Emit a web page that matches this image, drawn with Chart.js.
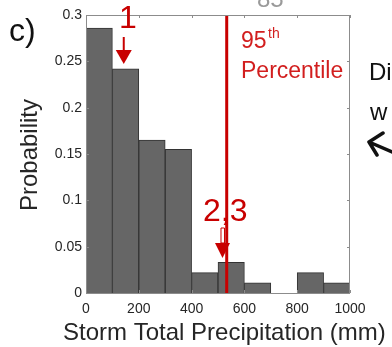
<!DOCTYPE html>
<html>
<head>
<meta charset="utf-8">
<script src="https://cdn.jsdelivr.net/npm/chart.js@4"></script>
<style>
  html, body { margin: 0; padding: 0; background: #fff; }
  #wrap { width: 392px; height: 347px; }
</style>
</head>
<body>
<div id="wrap"><canvas id="histChart" width="392" height="347"></canvas></div>
<script>
// bin centres (mm) and probabilities
const binCenters = [50, 150, 250, 350, 450, 550, 650, 750, 850, 950];
const probabilities = [0.286, 0.242, 0.165, 0.155, 0.022, 0.033, 0.011, 0, 0.022, 0.011];
const percentile95 = 533;
const xTicks = [0, 200, 400, 600, 800, 1000];
const yTicks = [0, 0.05, 0.1, 0.15, 0.2, 0.25, 0.3];

const FONT = "'Liberation Sans', Arial, Helvetica, sans-serif";
const RED = '#c80000';

// frame, inward ticks and the hand-drawn annotations
const decorations = {
  id: 'decorations',
  afterDraw(chart) {
    const { ctx, chartArea: a, scales: { x, y } } = chart;
    ctx.save();

    // axis box
    ctx.strokeStyle = '#8c8c8c';
    ctx.lineWidth = 1;
    ctx.strokeRect(a.left + 0.5, a.top + 0.5, a.right - a.left - 1, a.bottom - a.top);
    ctx.beginPath();
    xTicks.forEach(v => {
      const px = Math.round(x.getPixelForValue(v)) + 0.5;
      ctx.moveTo(px, a.bottom); ctx.lineTo(px, a.bottom - 3);
      ctx.moveTo(px, a.top); ctx.lineTo(px, a.top + 3);
    });
    yTicks.forEach(v => {
      const py = Math.round(y.getPixelForValue(v)) + 0.5;
      ctx.moveTo(a.left, py); ctx.lineTo(a.left + 3, py);
      ctx.moveTo(a.right, py); ctx.lineTo(a.right - 3, py);
    });
    ctx.stroke();

    // axis titles
    ctx.fillStyle = '#262626';
    ctx.font = '24px ' + FONT;
    ctx.textAlign = 'left';
    ctx.textBaseline = 'alphabetic';
    ctx.fillText('Storm Total Precipitation (mm)', 63, 340);
    ctx.save();
    ctx.translate(37, 155);
    ctx.rotate(-Math.PI / 2);
    ctx.textAlign = 'center';
    ctx.fillText('Probability', 0, 0);
    ctx.restore();

    // panel letter
    ctx.fillStyle = '#111';
    ctx.font = '32px ' + FONT;
    ctx.fillText('c)', 9, 41);

    // clipped text from neighbouring panels
    ctx.fillStyle = '#9a9a9a';
    ctx.font = '24px ' + FONT;
    ctx.fillText('85', 257, 7);
    ctx.fillStyle = '#111';
    ctx.fillText('Di', 369, 80);
    ctx.fillText('w', 370, 120);
    ctx.strokeStyle = '#111';
    ctx.lineWidth = 3.5;
    ctx.lineCap = 'round';
    ctx.lineJoin = 'round';
    ctx.beginPath();
    ctx.moveTo(383, 133); ctx.lineTo(369, 142); ctx.lineTo(377, 155);
    ctx.moveTo(369, 142); ctx.lineTo(392, 152);
    ctx.stroke();

    // "1" with arrow
    ctx.fillStyle = RED;
    ctx.strokeStyle = RED;
    ctx.lineCap = 'butt';
    ctx.font = '32px ' + FONT;
    ctx.textAlign = 'left';
    ctx.fillText('1', 119, 28);
    const ax1 = x.getPixelForValue(143);
    ctx.lineWidth = 2;
    ctx.beginPath();
    ctx.moveTo(ax1, 37); ctx.lineTo(ax1, 51);
    ctx.stroke();
    ctx.beginPath();
    ctx.moveTo(ax1 - 8, 50); ctx.lineTo(ax1 + 8, 50); ctx.lineTo(ax1, 64); ctx.closePath();
    ctx.fill();

    // "2,3" with hollow arrow
    ctx.fillText('2,3', 203, 221);
    const ax2 = x.getPixelForValue(517);
    ctx.fillStyle = '#fff';
    ctx.lineWidth = 1;
    ctx.fillRect(ax2 - 1.5, 228, 3.5, 15);
    ctx.strokeRect(ax2 - 1.5, 228, 3.5, 15);
    ctx.fillStyle = RED;
    ctx.beginPath();
    ctx.moveTo(ax2 - 7.5, 243); ctx.lineTo(ax2 + 7.5, 243); ctx.lineTo(ax2, 258); ctx.closePath();
    ctx.fill();

    // 95th percentile label
    ctx.fillStyle = '#d21e1e';
    ctx.font = '23px ' + FONT;
    ctx.fillText('95', 241, 48);
    ctx.font = '14px ' + FONT;
    ctx.fillText('th', 268, 38);
    ctx.font = '23px ' + FONT;
    ctx.fillText('Percentile', 241, 78);

    ctx.restore();
  }
};

new Chart(document.getElementById('histChart'), {
  type: 'bar',
  data: {
    datasets: [
      {
        type: 'line',
        data: [{ x: percentile95, y: 0 }, { x: percentile95, y: 0.3 }],
        borderColor: RED,
        borderWidth: 3,
        pointRadius: 0,
        order: 0
      },
      {
        data: binCenters.map((c, i) => ({ x: c, y: probabilities[i] })),
        backgroundColor: '#666666',
        borderColor: '#333333',
        borderWidth: 1,
        barPercentage: 1,
        categoryPercentage: 1,
        order: 1
      }
    ]
  },
  options: {
    responsive: false,
    animation: false,
    layout: { padding: { top: 15, right: 42, left: 0, bottom: 0 } },
    plugins: { legend: { display: false }, tooltip: { enabled: false } },
    scales: {
      x: {
        type: 'linear',
        min: 0,
        max: 1000,
        offset: false,
        afterFit: s => { s.height = 54; },
        afterBuildTicks: s => { s.ticks = xTicks.map(v => ({ value: v })); },
        grid: { display: false, drawTicks: false },
        border: { display: false },
        ticks: {
          padding: 8,
          color: '#262626',
          font: { family: FONT, size: 14 },
          callback: v => String(v)
        }
      },
      y: {
        min: 0,
        max: 0.3,
        afterFit: s => { s.width = 86; },
        afterBuildTicks: s => { s.ticks = yTicks.map(v => ({ value: v })); },
        grid: { display: false, drawTicks: false },
        border: { display: false },
        ticks: {
          padding: 4,
          color: '#262626',
          font: { family: FONT, size: 14 },
          callback: v => String(+v.toFixed(2))
        }
      }
    }
  },
  plugins: [decorations]
});
</script>
</body>
</html>
